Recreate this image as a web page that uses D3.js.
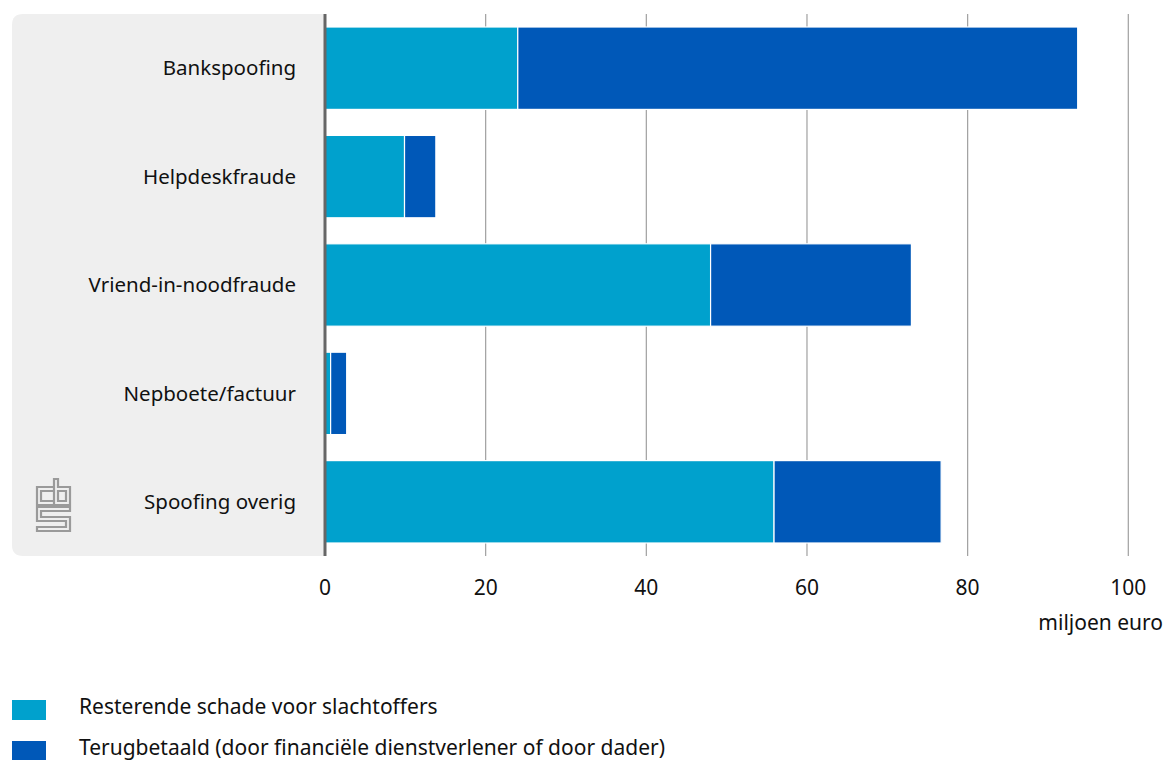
<!DOCTYPE html>
<html><head><meta charset="utf-8">
<script src="https://cdn.jsdelivr.net/npm/d3@7"></script>
<style>body{margin:0;background:#fff}svg{display:block}text{font-family:"Noto Sans",sans-serif;fill:#111}</style>
</head><body><svg id="c" width="1168" height="760"></svg>
<script>
const categories = ["Bankspoofing","Helpdeskfraude","Vriend-in-noodfraude","Nepboete/factuur","Spoofing overig"];
const resterend = [24, 9.9, 48, 0.7, 55.9];
const terugbetaald = [69.7, 3.9, 25, 2.0, 20.8];
const seriesNames = ["Resterende schade voor slachtoffers","Terugbetaald (door financiële dienstverlener of door dader)"];
const xTicks = [0,20,40,60,80,100];
const unitLabel = "miljoen euro";
const colors = ["#00A1CD","#0058B8"];

const svg = d3.select("#c");
const x = d3.scaleLinear().domain([0,100]).range([325,1128.3]);
const y = d3.scaleBand().domain(categories).range([14,556]).paddingInner(0.24).paddingOuter(0.12);

// panel
svg.append("path").attr("fill","#efefef")
  .attr("d", (()=>{const l=12,t=14,r=325,b=556,rr=11;return `M${l+rr},${t}H${r}V${b}H${l+rr}Q${l},${b} ${l},${b-rr}V${t+rr}Q${l},${t} ${l+rr},${t}Z`;})());

// grid
svg.append("g").selectAll("line").data(xTicks.filter(d=>d>0)).join("line")
  .attr("x1",d=>x(d)).attr("x2",d=>x(d)).attr("y1",14).attr("y2",556)
  .attr("stroke","#a0a0a0").attr("stroke-width",1.2);

// data
const stack = categories.map((c,i)=>({c, vals:[resterend[i],terugbetaald[i]]}));
const g = svg.append("g");
stack.forEach(d=>{
  let acc=0;
  d.vals.forEach((v,j)=>{
    g.append("rect").attr("x",x(acc)).attr("width",x(acc+v)-x(acc))
     .attr("y",y(d.c)).attr("height",y.bandwidth())
     .attr("fill",colors[j]).attr("stroke","#fff").attr("stroke-width",1.2);
    acc+=v;
  });
});

// axis line
svg.append("line").attr("x1",x(0)).attr("x2",x(0)).attr("y1",14).attr("y2",556).attr("stroke","#666").attr("stroke-width",3);

// category labels
svg.append("g").selectAll("text").data(categories).join("text")
  .attr("x",296).attr("y",d=>y(d)+y.bandwidth()/2).attr("dy","0.35em")
  .attr("text-anchor","end").attr("font-size",20.5).text(d=>d);

// x tick labels
svg.append("g").selectAll("text").data(xTicks).join("text")
  .attr("x",d=>x(d)).attr("y",595).attr("text-anchor","middle").attr("font-size",21).text(d=>d);
svg.append("text").attr("x",1163).attr("y",630).attr("text-anchor","end").attr("font-size",21).text(unitLabel);

// legend
const lg = svg.append("g").selectAll("g").data(seriesNames).join("g")
  .attr("transform",(d,i)=>`translate(12,${700+i*41})`);
lg.append("rect").attr("width",34).attr("height",20).attr("fill",(d,i)=>colors[i]);
lg.append("text").attr("x",67).attr("y",14).attr("font-size",21).text(d=>d);

// CBS logo
const logo = svg.append("g").attr("fill","none").attr("stroke","#9a9a9a").attr("stroke-width",2.2);
logo.append("path").attr("d","M53,487H37V505H53 M53,491H41V501H53");
logo.append("path").attr("d","M54,479V505H70V487H58V479Z M58,491H66V501H58Z");
logo.append("path").attr("d","M70,507H37V521H66V527H37V531H70V517H41V511H70Z");
</script></body></html>
